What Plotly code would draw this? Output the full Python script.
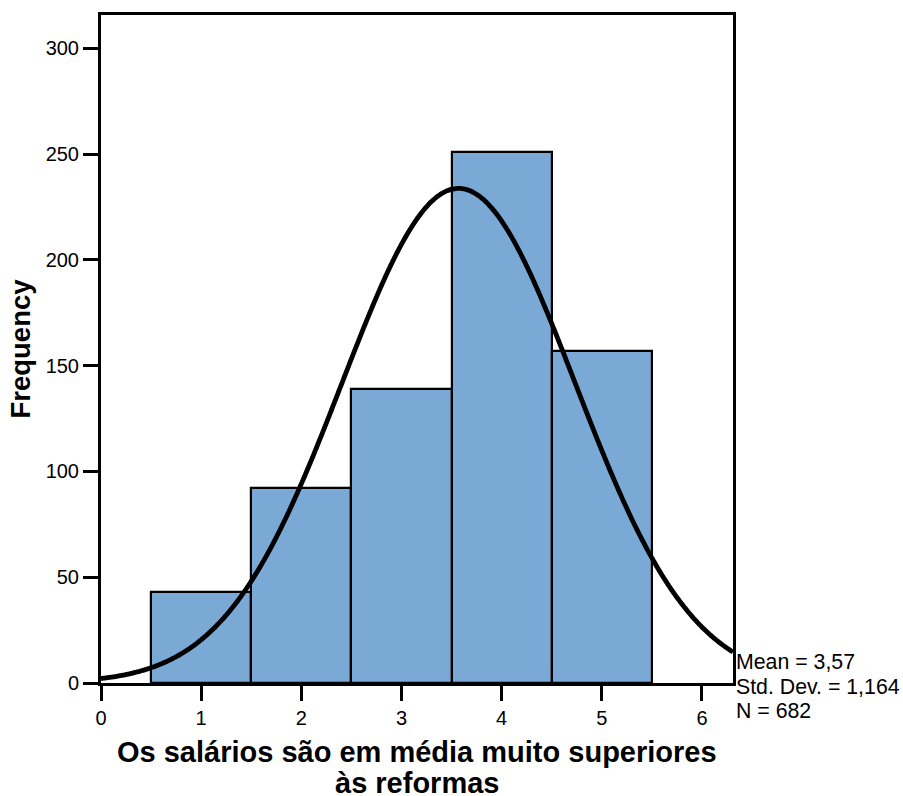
import numpy as np
import plotly.graph_objects as go

# Data
bin_centers = [1, 2, 3, 4, 5]
frequencies = [43, 92, 139, 251, 157]
mean_val = 3.57
std_dev = 1.164
n_total = 682
x_ticks = [0, 1, 2, 3, 4, 5, 6]
y_ticks = [0, 50, 100, 150, 200, 250, 300]
x_title_lines = ["Os salários são em média muito superiores", "às reformas"]
y_title = "Frequency"
stat_lines = [
    f"Mean = {str(mean_val).replace('.', ',')}",
    f"Std. Dev. = {str(std_dev).replace('.', ',')}",
    f"N = {n_total}",
]

x_max = 6.31
y_max = 315.7

# Fitted normal curve (from stated mean / std. dev., bin width 1)
xc = np.linspace(0, x_max, 400)
yc = n_total * 1.0 / (std_dev * np.sqrt(2 * np.pi)) * np.exp(-0.5 * ((xc - mean_val) / std_dev) ** 2)

fig = go.Figure()
fig.add_trace(go.Bar(
    x=bin_centers, y=frequencies, width=1,
    marker=dict(color="#7aa9d6", line=dict(color="black", width=2.2)),
    showlegend=False, hoverinfo="x+y",
))
fig.add_trace(go.Scatter(
    x=xc, y=yc, mode="lines",
    line=dict(color="black", width=4.8, shape="spline"),
    showlegend=False, hoverinfo="skip",
))

font_family = "Liberation Sans, Arial, sans-serif"

annotations = []
for i, line in enumerate(stat_lines):
    annotations.append(dict(
        xref="paper", yref="paper", x=1, y=0, xshift=1, yshift=20.6 - 24.5 * i,
        xanchor="left", yanchor="middle", align="left", showarrow=False,
        text=line, font=dict(size=21.3, family=font_family, color="black"),
    ))
for i, line in enumerate(x_title_lines):
    annotations.append(dict(
        xref="paper", yref="paper", x=0.5, y=0, yshift=-69.4 - 30.6 * i,
        xanchor="center", yanchor="middle", align="center", showarrow=False,
        text=f"<b>{line}</b>", font=dict(size=29, family=font_family, color="black"),
    ))

fig.update_layout(
    width=903, height=796,
    margin=dict(l=101, r=170, t=15, b=113),
    paper_bgcolor="white", plot_bgcolor="white",
    font=dict(family=font_family, color="black"),
    bargap=0,
    xaxis=dict(
        range=[0, x_max], tickvals=x_ticks, ticktext=[str(v) for v in x_ticks],
        showgrid=False, zeroline=False, automargin=False,
        showline=True, linecolor="black", linewidth=3, mirror=True,
        ticks="outside", ticklen=15, tickwidth=2.5, tickcolor="black",
        tickfont=dict(size=20, family=font_family, color="black"),
    ),
    yaxis=dict(
        range=[0, y_max], tickvals=y_ticks, ticktext=[str(v) for v in y_ticks],
        showgrid=False, zeroline=False, automargin=False,
        showline=True, linecolor="black", linewidth=3, mirror=True,
        ticks="outside", ticklen=15, tickwidth=2.5, tickcolor="black",
        tickfont=dict(size=20, family=font_family, color="black"),
        title=dict(text=f"<b>{y_title}</b>",
                   font=dict(size=27.5, family=font_family, color="black"), standoff=8),
    ),
    annotations=annotations,
)

fig.write_html(
    "out.html",
    config={"displayModeBar": False},
    post_script="document.body.style.margin='0';document.body.style.overflow='hidden';",
)
